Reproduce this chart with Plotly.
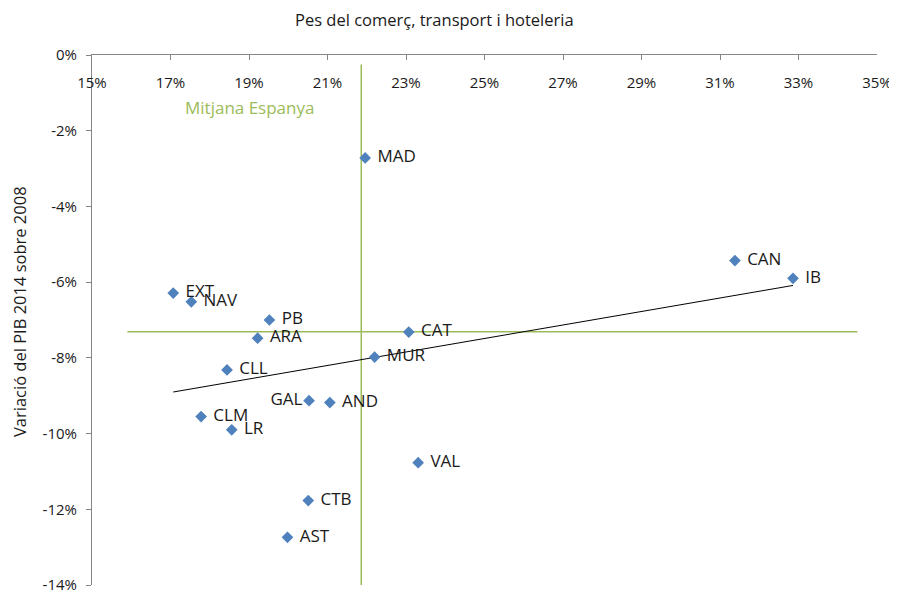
import numpy as np
import plotly.graph_objects as go

# ---- data ----
regions = ["MAD", "CAN", "IB", "EXT", "NAV", "PB", "ARA", "CAT", "MUR",
           "CLL", "GAL", "AND", "CLM", "LR", "VAL", "CTB", "AST"]
pes_comerc = [21.96, 31.38, 32.86, 17.07, 17.53, 19.52, 19.22, 23.07, 22.20,
              18.44, 20.53, 21.06, 17.78, 18.56, 23.31, 20.51, 19.98]
variacio_pib = [-2.72, -5.43, -5.90, -6.29, -6.52, -7.00, -7.48, -7.32, -7.98,
                -8.32, -9.13, -9.18, -9.55, -9.90, -10.77, -11.77, -12.74]
mitjana_pes = 21.86
mitjana_var = -7.31
mitjana_h_x = [15.9, 34.5]       # extent of horizontal average line
mitjana_v_y = [-0.25, -14.0]     # extent of vertical average line

x_tickvals = [15, 17, 19, 21, 23, 25, 27, 29, 31, 33, 35]
x_ticktext = ["15%", "17%", "19%", "21%", "23%", "25%", "27%", "29%", "31%", "33%", "35%"]
y_tickvals = [0, -2, -4, -6, -8, -10, -12, -14]
y_ticktext = ["0%", "-2%", "-4%", "-6%", "-8%", "-10%", "-12%", "-14%"]

FONT = "Open Sans, Segoe UI, sans-serif"
GREEN = "#9BBB59"
BLUE = "#4F81BD"
TXT = "#1a1a1a"

right_idx = [i for i, r in enumerate(regions) if r != "GAL"]
left_idx = [i for i, r in enumerate(regions) if r == "GAL"]

# linear trend (least squares) across data range
slope, intercept = np.polyfit(pes_comerc, variacio_pib, 1)
tx = np.array([min(pes_comerc), max(pes_comerc)])
ty = slope * tx + intercept

fig = go.Figure()

fig.add_trace(go.Scatter(
    x=mitjana_h_x, y=[mitjana_var, mitjana_var], mode="lines",
    line=dict(color=GREEN, width=1.5), hoverinfo="skip", showlegend=False))
fig.add_trace(go.Scatter(
    x=[mitjana_pes, mitjana_pes], y=mitjana_v_y, mode="lines",
    line=dict(color=GREEN, width=1.5), hoverinfo="skip", showlegend=False))

fig.add_trace(go.Scatter(
    x=tx, y=ty, mode="lines", line=dict(color="black", width=1),
    hoverinfo="skip", showlegend=False))

fig.add_trace(go.Scatter(
    x=pes_comerc, y=variacio_pib, mode="markers",
    marker=dict(symbol="diamond", size=9, color=BLUE),
    text=regions, hovertemplate="%{text}: %{x}%, %{y}%<extra></extra>",
    showlegend=False))

# labels to the right (invisible larger markers push the text outward)
fig.add_trace(go.Scatter(
    x=[pes_comerc[i] for i in right_idx], y=[variacio_pib[i] for i in right_idx],
    mode="markers+text", text=[regions[i] for i in right_idx],
    textposition="middle right",
    textfont=dict(family=FONT, size=17, color=TXT),
    marker=dict(size=18, opacity=0), hoverinfo="skip", showlegend=False))
fig.add_trace(go.Scatter(
    x=[pes_comerc[i] for i in left_idx], y=[variacio_pib[i] for i in left_idx],
    mode="markers+text", text=[regions[i] for i in left_idx],
    textposition="middle left",
    textfont=dict(family=FONT, size=17, color=TXT),
    marker=dict(size=9, opacity=0), hoverinfo="skip", showlegend=False))

fig.update_xaxes(
    range=[15, 35], side="top", tickvals=x_tickvals, ticktext=x_ticktext,
    ticks="inside", ticklen=5, tickcolor="#868686",
    ticklabelposition="inside", ticklabelstandoff=17, ticklabeloverflow="allow",
    showline=True, linecolor="#868686", linewidth=1,
    showgrid=False, zeroline=False, automargin=False,
    tickfont=dict(family=FONT, size=15, color=TXT))
fig.update_yaxes(
    range=[-14, 0], tickvals=y_tickvals, ticktext=y_ticktext,
    ticks="outside", ticklen=5, tickcolor="#868686", ticklabeloverflow="allow",
    ticklabelstandoff=6,
    showline=True, linecolor="#868686", linewidth=1,
    showgrid=False, zeroline=False, automargin=False,
    tickfont=dict(family=FONT, size=15, color=TXT))

fig.add_annotation(
    text="Variació del PIB 2014 sobre 2008", xref="paper", yref="paper",
    x=(19 - 92) / 785, y=1 - (312 - 55) / 530, textangle=-90, showarrow=False,
    font=dict(family=FONT, size=16.5, color=TXT), xanchor="center", yanchor="middle")
fig.add_annotation(
    text="Pes del comerç, transport i hoteleria", xref="paper", yref="paper",
    x=(434 - 92) / 785, y=1 + (55 - 20) / 530, showarrow=False,
    font=dict(family=FONT, size=16.5, color=TXT), xanchor="center", yanchor="middle")
fig.add_annotation(
    text="Mitjana Espanya", xref="paper", yref="paper",
    x=(249 - 92) / 785, y=1 - (108 - 55) / 530, showarrow=False,
    font=dict(family=FONT, size=17, color=GREEN), xanchor="center", yanchor="middle")

# page body has an 8px margin: shrink/shift so the plot area lands at 92..877 x 55..585
fig.update_layout(
    width=889, height=582,
    margin=dict(l=84, r=20, t=47, b=5),
    paper_bgcolor="white", plot_bgcolor="white",
    font=dict(family=FONT))

fig.write_html("out.html")
